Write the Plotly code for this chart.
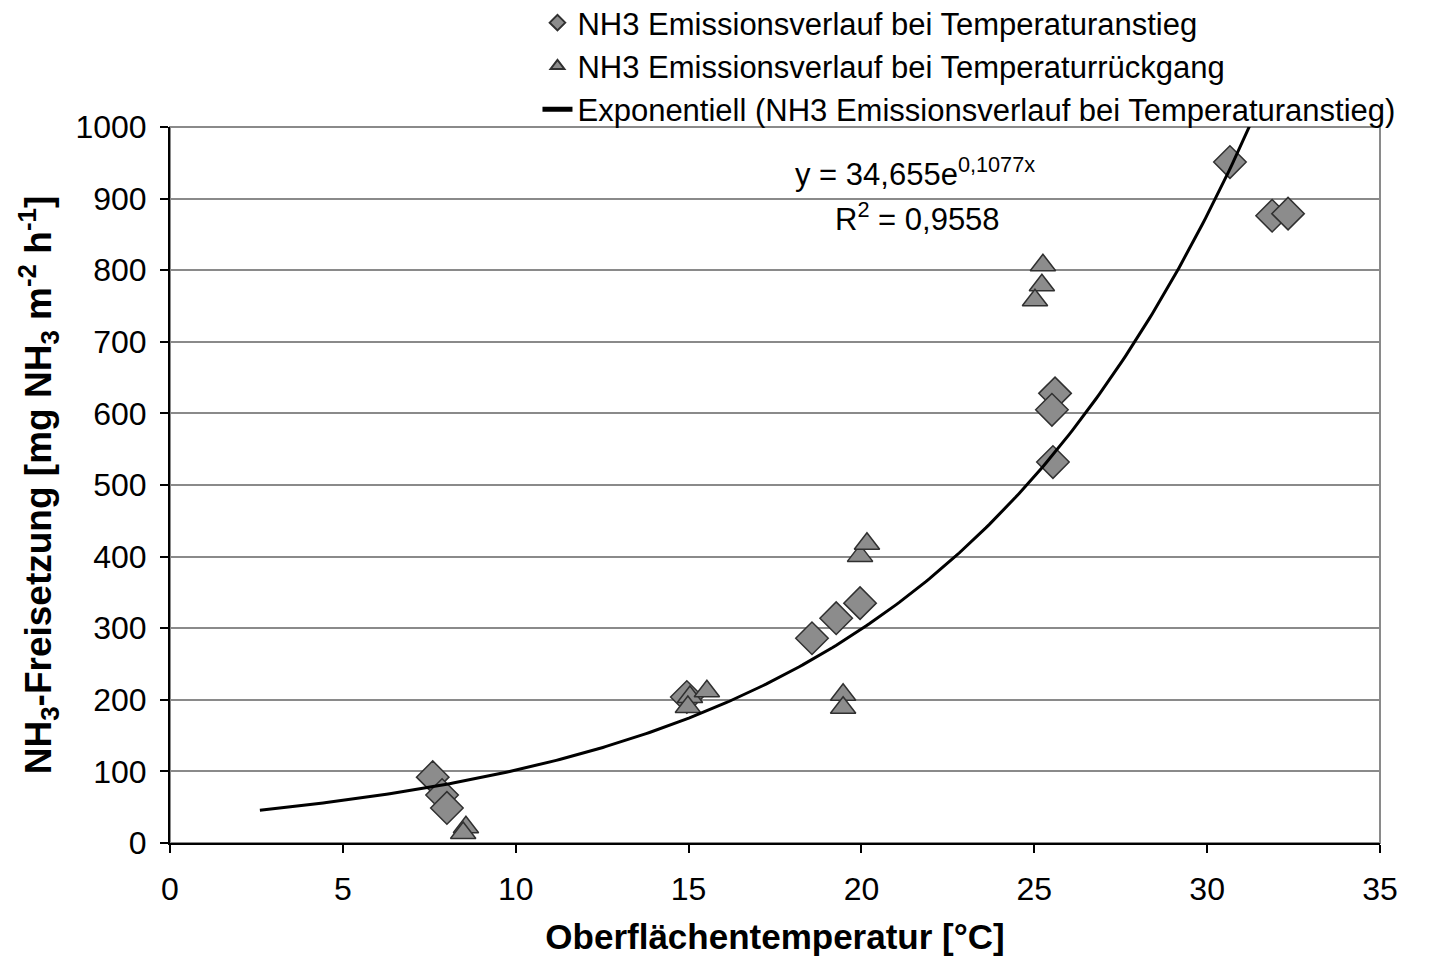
import numpy as np
import plotly.graph_objects as go

# Data
rise_x = [7.6, 7.87, 8.01, 14.95, 18.57, 19.27, 19.96, 25.6, 25.51, 25.54, 30.66, 31.88, 32.34]
rise_y = [92, 67, 49, 204, 286, 314, 335, 628, 605, 532, 951, 876, 879]

fall_x = [8.56, 8.48, 15.04, 14.98, 15.53, 19.47, 19.47, 19.96, 20.16, 25.25, 25.22, 25.02]
fall_y = [22, 14, 204, 190, 212, 207, 189, 401, 418, 807, 779, 758]

# Trendline from the displayed equation y = 34.655 e^(0.1077x)
fit_a = 34.655
fit_b = 0.1077
fit_x_start = 2.6
fit_x_end = 31.4

x_ticks = [0, 5, 10, 15, 20, 25, 30, 35]
y_ticks = [0, 100, 200, 300, 400, 500, 600, 700, 800, 900, 1000]

fx = np.linspace(fit_x_start, fit_x_end, 300)
fy = fit_a * np.exp(fit_b * fx)

FONT = "Liberation Sans, Arial, sans-serif"
PLOT_H = 716
PLOT_W = 1210

fig = go.Figure()
fig.add_trace(go.Scatter(
    x=rise_x, y=rise_y, mode="markers",
    name="NH3 Emissionsverlauf bei Temperaturanstieg",
    marker=dict(symbol="diamond", size=25, color="#8c8c8c",
                line=dict(color="#303030", width=1.5)),
    cliponaxis=False,
))
fig.add_trace(go.Scatter(
    x=fall_x, y=fall_y, mode="markers",
    name="NH3 Emissionsverlauf bei Temperaturrückgang",
    marker=dict(symbol="triangle-up", size=22, color="#8c8c8c",
                line=dict(color="#303030", width=1.5)),
    cliponaxis=False,
))
fig.add_trace(go.Scatter(
    x=fx, y=fy, mode="lines",
    name="Exponentiell (NH3 Emissionsverlauf bei Temperaturanstieg)",
    line=dict(color="#000000", width=3),
))

# plot area border (gray)
fig.add_shape(type="rect", xref="paper", yref="paper", x0=0, y0=0, x1=1, y1=1,
              line=dict(color="#8a8a8a", width=2), layer="below")

fig.update_layout(
    width=1433, height=959,
    margin=dict(l=162, r=61, t=119, b=124, autoexpand=False),
    paper_bgcolor="white", plot_bgcolor="white",
    font=dict(family=FONT, color="#000000", size=32),
    showlegend=True,
    legend=dict(x=(552 - 170) / PLOT_W - 0.012, y=1 + (119 + 12) / PLOT_H,
                xanchor="left", yanchor="top",
                bgcolor="rgba(0,0,0,0)", font=dict(size=31, family=FONT),
                itemsizing="constant", tracegroupgap=0, itemwidth=30),
    xaxis=dict(range=[0, 35], tickvals=x_ticks, ticktext=[str(v) for v in x_ticks],
               showgrid=False, zeroline=False, showline=True, linecolor="#000000",
               linewidth=2, ticks="outside", ticklen=8, tickwidth=2, tickcolor="#000000",
               ticklabelstandoff=9,
               tickfont=dict(size=32, family=FONT),
               title=dict(text="<b>Oberflächentemperatur [°C]</b>", font=dict(size=35, family=FONT),
                          standoff=18)),
    yaxis=dict(range=[0, 1000], tickvals=y_ticks, ticktext=[str(v) for v in y_ticks],
               showgrid=True, gridcolor="#8a8a8a", gridwidth=2, zeroline=False,
               showline=True, linecolor="#000000", linewidth=2, ticks="outside",
               ticklen=8, tickwidth=2, tickcolor="#000000",
               ticklabelstandoff=7,
               tickfont=dict(size=32, family=FONT),
               title=dict(text="<b>NH<sub>3</sub>-Freisetzung [mg NH<sub>3</sub> m<sup>-2</sup> h<sup>-1</sup>]</b>",
                          font=dict(size=37, family=FONT), standoff=12)),
)

fig.add_annotation(
    xref="paper", yref="paper", x=(915 - 170) / PLOT_W, y=(843 - 172) / PLOT_H,
    text="y = 34,655e<sup>0,1077x</sup>", showarrow=False,
    font=dict(size=31, family=FONT), xanchor="center", yanchor="middle")
fig.add_annotation(
    xref="paper", yref="paper", x=(917 - 170) / PLOT_W, y=(843 - 217) / PLOT_H,
    text="R<sup>2</sup> = 0,9558", showarrow=False,
    font=dict(size=31, family=FONT), xanchor="center", yanchor="middle")

fig.write_html("out.html")
